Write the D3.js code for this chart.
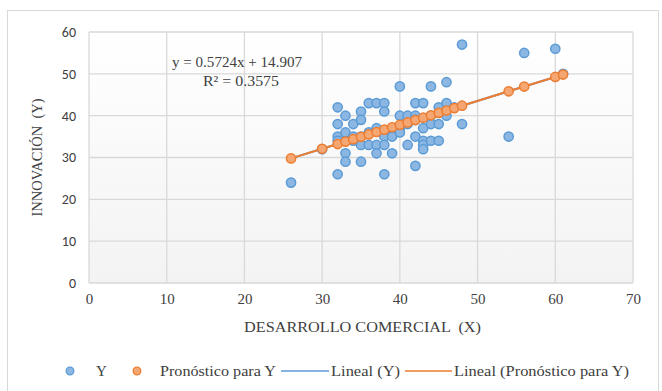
<!DOCTYPE html>
<html>
<head>
<meta charset="utf-8">
<script src="https://cdn.jsdelivr.net/npm/d3@7"></script>
<style>
  body { margin: 0; background: #fff; }
  text { fill: #404040; white-space: pre; }
</style>
</head>
<body>
<div id="chart"></div>
<script>
// Datos observados (X, Y)
const obsX = [26, 30, 32, 32, 32, 32, 32, 33, 33, 33, 33, 34, 34, 34, 35, 35, 35, 35, 35,
  36, 36, 36, 37, 37, 37, 37, 38, 38, 38, 38, 38, 38, 39, 39, 39, 40, 40, 40, 40,
  41, 41, 41, 42, 42, 42, 42, 42, 43, 43, 43, 43, 43, 44, 44, 44, 44, 45, 45, 45,
  46, 46, 46, 47, 48, 48, 54, 56, 60, 61];
const obsY = [24, 32, 42, 38, 35, 34, 26, 40, 36, 31, 29, 38, 35, 34, 41, 39, 35, 33, 29,
  43, 36, 33, 43, 37, 33, 31, 43, 41, 36, 35, 33, 26, 37, 35, 31, 47, 40, 37, 36,
  40, 38, 33, 43, 40, 39, 35, 28, 43, 37, 34, 33, 32, 47, 40, 38, 34, 42, 38, 34,
  48, 43, 40, 42, 57, 38, 35, 55, 56, 50];

// Pronóstico para Y
const predX = [26, 30, 32, 33, 34, 35, 36, 37, 38, 39, 40, 41, 42, 43, 44, 45, 46, 47, 48, 54, 56, 60, 61];
const predY = [29.79, 32.08, 33.22, 33.80, 34.37, 34.94, 35.51, 36.09, 36.66, 37.23, 37.80, 38.38,
  38.95, 39.52, 40.09, 40.67, 41.24, 41.81, 42.38, 45.82, 46.96, 49.25, 49.82];

const xTicks = [0, 10, 20, 30, 40, 50, 60, 70];
const yTicks = [0, 10, 20, 30, 40, 50, 60];
const legendItems = ["Y", "Pronóstico para Y", "Lineal (Y)", "Lineal (Pronóstico para Y)"];

const W = 662, H = 391;
const plot = { left: 89, right: 633, top: 32, bottom: 283 };
const serif = "'Liberation Serif', 'Times New Roman', serif";
const sans = "Calibri, Carlito, 'Liberation Sans', Arial, sans-serif";

const svg = d3.select("#chart").append("svg")
  .attr("width", W).attr("height", H);

// marco exterior
svg.append("rect")
  .attr("x", 7.5).attr("y", 10.5)
  .attr("width", 651).attr("height", 400)
  .attr("fill", "#fff").attr("stroke", "#d9d9d9");

const defs = svg.append("defs");
const grad = defs.append("linearGradient").attr("id", "bg")
  .attr("x1", 0).attr("y1", 0).attr("x2", 0).attr("y2", 1);
grad.append("stop").attr("offset", "0%").attr("stop-color", "#ffffff");
grad.append("stop").attr("offset", "100%").attr("stop-color", "#f3f3f3");

const x = d3.scaleLinear().domain([0, 70]).range([plot.left, plot.right]);
const y = d3.scaleLinear().domain([0, 60]).range([plot.bottom, plot.top]);

svg.append("rect")
  .attr("x", plot.left).attr("y", plot.top)
  .attr("width", plot.right - plot.left).attr("height", plot.bottom - plot.top)
  .attr("fill", "url(#bg)");

// cuadrícula
svg.append("g").selectAll("line").data(xTicks).join("line")
  .attr("x1", d => x(d)).attr("x2", d => x(d))
  .attr("y1", plot.top).attr("y2", plot.bottom)
  .attr("stroke", "#d9d9d9").attr("stroke-width", 1.3);
svg.append("g").selectAll("line").data(yTicks).join("line")
  .attr("x1", plot.left).attr("x2", plot.right)
  .attr("y1", d => y(d)).attr("y2", d => y(d))
  .attr("stroke", "#d9d9d9").attr("stroke-width", 1.3);

// ejes (solo etiquetas)
const xAxis = svg.append("g")
  .attr("transform", `translate(0,${plot.bottom})`)
  .call(d3.axisBottom(x).tickValues(xTicks).tickSize(0).tickPadding(10));
xAxis.select(".domain").remove();
xAxis.selectAll("text").style("font-family", serif).style("font-size", "15px").attr("fill", "#404040");

const yAxis = svg.append("g")
  .attr("transform", `translate(${plot.left},0)`)
  .call(d3.axisLeft(y).tickValues(yTicks).tickSize(0).tickPadding(13));
yAxis.select(".domain").remove();
yAxis.selectAll("text").style("font-family", sans).style("font-size", "14px").attr("fill", "#404040");

// títulos
svg.append("text")
  .attr("x", 244).attr("y", 332)
  .attr("textLength", 237).attr("lengthAdjust", "spacingAndGlyphs")
  .style("font-family", serif).style("font-size", "15px")
  .text("DESARROLLO COMERCIAL  (X)");
svg.append("text")
  .attr("transform", `translate(42,${(plot.top + plot.bottom) / 2}) rotate(-90)`)
  .attr("text-anchor", "middle")
  .style("font-family", serif).style("font-size", "14.5px")
  .text("INNOVACIÓN  (Y)");

// líneas de tendencia
const line = d3.line().x((d, i) => x(predX[i])).y(d => y(d));
svg.append("path").datum(predY)
  .attr("d", line).attr("fill", "none")
  .attr("stroke", "#5b9bd5").attr("stroke-width", 2);
svg.append("path").datum(predY)
  .attr("d", line).attr("fill", "none")
  .attr("stroke", "#ed7d31").attr("stroke-width", 2);

// puntos observados
svg.append("g").selectAll("circle").data(obsY).join("circle")
  .attr("cx", (d, i) => x(obsX[i])).attr("cy", d => y(d))
  .attr("r", 4.6)
  .attr("fill", "#8cb7e3").attr("stroke", "#5b9bd5").attr("stroke-width", 1.5);

// puntos de pronóstico
svg.append("g").selectAll("circle").data(predY).join("circle")
  .attr("cx", (d, i) => x(predX[i])).attr("cy", d => y(d))
  .attr("r", 4.6)
  .attr("fill", "#f4a772").attr("stroke", "#ed7d31").attr("stroke-width", 1.5);

// ecuación
svg.append("text").attr("x", 172).attr("y", 67)
  .attr("textLength", 130).attr("lengthAdjust", "spacingAndGlyphs")
  .style("font-family", serif).style("font-size", "15px").attr("fill", "#000")
  .text("y = 0.5724x + 14.907");
svg.append("text").attr("x", 203).attr("y", 86)
  .attr("textLength", 76).attr("lengthAdjust", "spacingAndGlyphs")
  .style("font-family", serif).style("font-size", "15px").attr("fill", "#000")
  .text("R² = 0.3575");

// leyenda
const lg = svg.append("g").style("font-family", serif).style("font-size", "15px");
const ly = 371;
lg.append("circle").attr("cx", 70).attr("cy", ly).attr("r", 3.8)
  .attr("fill", "#8cb7e3").attr("stroke", "#5b9bd5").attr("stroke-width", 1.3);
lg.append("text").attr("x", 96).attr("y", ly + 5).text(legendItems[0]);
lg.append("circle").attr("cx", 137).attr("cy", ly).attr("r", 3.8)
  .attr("fill", "#f4a772").attr("stroke", "#ed7d31").attr("stroke-width", 1.3);
lg.append("text").attr("x", 160).attr("y", ly + 5)
  .attr("textLength", 116).attr("lengthAdjust", "spacingAndGlyphs").text(legendItems[1]);
lg.append("line").attr("x1", 281).attr("x2", 329).attr("y1", ly).attr("y2", ly)
  .attr("stroke", "#5b9bd5").attr("stroke-width", 1.6);
lg.append("text").attr("x", 331).attr("y", ly + 5)
  .attr("textLength", 69).attr("lengthAdjust", "spacingAndGlyphs").text(legendItems[2]);
lg.append("line").attr("x1", 405).attr("x2", 452).attr("y1", ly).attr("y2", ly)
  .attr("stroke", "#ed7d31").attr("stroke-width", 1.6);
lg.append("text").attr("x", 454).attr("y", ly + 5)
  .attr("textLength", 175).attr("lengthAdjust", "spacingAndGlyphs").text(legendItems[3]);
</script>
</body>
</html>
